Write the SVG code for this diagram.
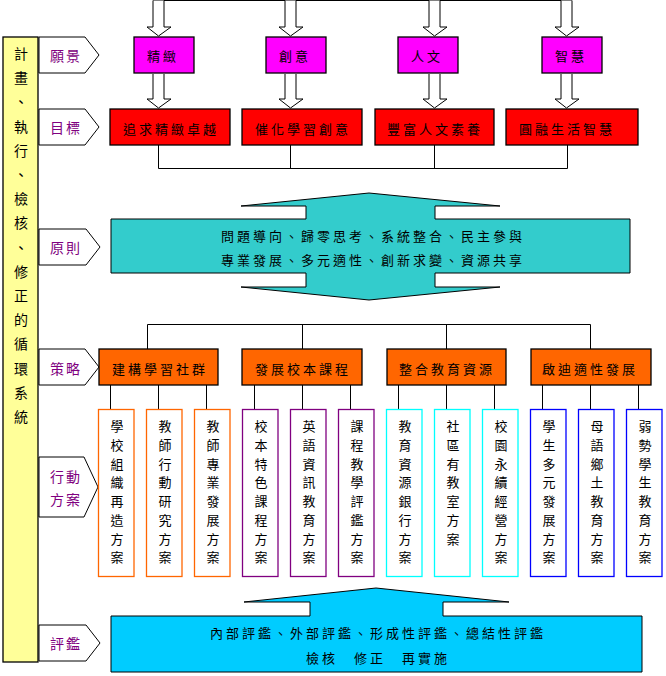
<svg xmlns="http://www.w3.org/2000/svg" width="666" height="676" viewBox="0 0 666 676">
<defs>
<style>
text{font-family:"Noto Sans CJK TC","Noto Sans CJK SC",sans-serif;font-size:13px;letter-spacing:3px;text-anchor:middle;dominant-baseline:central;fill:#000}
.lbl{fill:#800080;font-size:14px;letter-spacing:2px}
.side{font-size:14px;letter-spacing:0}
.vt{letter-spacing:0}
.ln{stroke:#000;stroke-width:1;fill:none}
.harrow{fill:#fff;stroke:#000;stroke-width:1}
.mag{fill:#FF00FF;stroke:#000;stroke-width:1.3}
.red{fill:#FF0000;stroke:#000;stroke-width:1.3}
.org{fill:#FF6600;stroke:#000;stroke-width:1.3}
.tag{fill:#fff;stroke:#000;stroke-width:1}
.act{fill:#fff;stroke-width:1.3}
.o{stroke:#FF6600}.p{stroke:#800080}.c{stroke:#00FFFF}.b{stroke:#0000FF}
</style>
</defs>
<rect width="666" height="676" fill="#fff"/>

<g id="cycle-column">
<rect x="3" y="37" width="35" height="625" fill="#FFFF99" stroke="#000" stroke-width="1.3"/>
<text class="side">
<tspan x="21" y="53">計</tspan><tspan x="21" y="77.2">畫</tspan><tspan x="21" y="101.4">、</tspan><tspan x="21" y="125.6">執</tspan><tspan x="21" y="149.8">行</tspan><tspan x="21" y="174">、</tspan><tspan x="21" y="198.2">檢</tspan><tspan x="21" y="222.4">核</tspan><tspan x="21" y="246.6">、</tspan><tspan x="21" y="270.8">修</tspan><tspan x="21" y="295">正</tspan><tspan x="21" y="319.2">的</tspan><tspan x="21" y="343.4">循</tspan><tspan x="21" y="367.6">環</tspan><tspan x="21" y="391.8">系</tspan><tspan x="21" y="416">統</tspan>
</text>
</g>

<g id="tag-vision"><path class="tag" d="M39,37 H85 L99,55 L85,73 H39 Z"/><text class="lbl" x="66" y="55">願景</text></g>
<g id="tag-goal"><path class="tag" d="M39,109 H85 L99,127 L85,145 H39 Z"/><text class="lbl" x="66" y="127">目標</text></g>
<g id="tag-principle"><path class="tag" d="M39,229 H86 L100,247 L86,265 H39 Z"/><text class="lbl" x="66" y="247">原則</text></g>
<g id="tag-strategy"><path class="tag" d="M39,349 H85 L99,367 L85,385 H39 Z"/><text class="lbl" x="66" y="368">策略</text></g>
<g id="tag-action"><path class="tag" d="M39,457 H84 L98,487 L84,517 H39 Z"/><text class="lbl" x="66" y="476">行動</text><text class="lbl" x="66" y="499">方案</text></g>
<g id="tag-eval"><path class="tag" d="M39,625 H86 L100,643 L86,661 H39 Z"/><text class="lbl" x="66" y="643">評鑑</text></g>

<g id="connectors">
<path class="ln" d="M153,0.5 H572"/>
<path class="harrow" d="M153,0.5 V27 H147 L158.5,36 L171,27 H164 V0.5"/>
<path class="harrow" d="M285,0.5 V27 H279 L290.5,36 L303,27 H296 V0.5"/>
<path class="harrow" d="M429,0.5 V27 H423 L434.5,36 L447,27 H440 V0.5"/>
<path class="harrow" d="M561,0.5 V27 H555 L566.5,36 L579,27 H572 V0.5"/>
<path class="harrow" d="M153,74 V99 H147 L158.5,108 L171,99 H164 V74"/>
<path class="harrow" d="M285,74 V99 H279 L290.5,108 L303,99 H296 V74"/>
<path class="harrow" d="M429,74 V99 H423 L434.5,108 L447,99 H440 V74"/>
<path class="harrow" d="M561,74 V99 H555 L566.5,108 L579,99 H572 V74"/>
<path class="ln" d="M158.5,145 V168.5 H567.5 V145 M290.5,145 V168.5 M434.5,145 V168.5"/>
<path class="ln" d="M147.5,349 V324.5 H590.5 V349 M302.5,324.5 V349 M446.5,324.5 V349"/>
<path class="ln" d="M110.5,385 V409 M158.5,385 V409 M206.5,385 V409 M254.5,385 V409 M302.5,385 V409 M350.5,385 V409 M398.5,385 V409 M446.5,385 V409 M494.5,385 V409 M542.5,385 V409 M590.5,385 V409 M638.5,385 V409"/>
</g>

<g id="vision-1"><rect class="mag" x="134" y="37" width="60" height="36"/><text x="163" y="55">精緻</text></g>
<g id="vision-2"><rect class="mag" x="266" y="37" width="60" height="36"/><text x="295" y="55">創意</text></g>
<g id="vision-3"><rect class="mag" x="398" y="37" width="60" height="36"/><text x="427" y="55">人文</text></g>
<g id="vision-4"><rect class="mag" x="542" y="37" width="60" height="36"/><text x="571" y="55">智慧</text></g>

<g id="goal-1"><rect class="red" x="110" y="109" width="120" height="36"/><text x="171" y="128">追求精緻卓越</text></g>
<g id="goal-2"><rect class="red" x="242" y="109" width="120" height="36"/><text x="303" y="128">催化學習創意</text></g>
<g id="goal-3"><rect class="red" x="375" y="109" width="119" height="36"/><text x="435" y="128">豐富人文素養</text></g>
<g id="goal-4"><rect class="red" x="506" y="109" width="132" height="36"/><text x="567" y="128">圓融生活智慧</text></g>

<g id="principle">
<path d="M369,193 L500,206 H435 V219 H630 V273 H435 V287 H500 L369,300 L241,287 H306 V273 H111 V219 H306 V206 H241 Z" fill="#33CCCC" stroke="#000" stroke-width="1"/>
<text x="373" y="235">問題導向、歸零思考、系統整合、民主參與</text>
<text x="373" y="259">專業發展、多元適性、創新求變、資源共享</text>
</g>

<g id="strategy-1"><rect class="org" x="99" y="349" width="119" height="36"/><text x="160" y="368">建構學習社群</text></g>
<g id="strategy-2"><rect class="org" x="242" y="349" width="120" height="36"/><text x="303" y="368">發展校本課程</text></g>
<g id="strategy-3"><rect class="org" x="387" y="349" width="119" height="36"/><text x="447" y="368">整合教育資源</text></g>
<g id="strategy-4"><rect class="org" x="531" y="349" width="120" height="36"/><text x="590" y="368">啟迪適性發展</text></g>

<g id="action-1"><rect class="act o" x="98.5" y="409.5" width="35.5" height="167"/><text class="vt"><tspan x="117" y="425">學</tspan><tspan x="117" y="443.75">校</tspan><tspan x="117" y="462.5">組</tspan><tspan x="117" y="481.25">織</tspan><tspan x="117" y="500">再</tspan><tspan x="117" y="518.75">造</tspan><tspan x="117" y="537.5">方</tspan><tspan x="117" y="556.25">案</tspan></text></g>
<g id="action-2"><rect class="act o" x="146.5" y="409.5" width="35.5" height="167"/><text class="vt"><tspan x="165" y="425">教</tspan><tspan x="165" y="443.75">師</tspan><tspan x="165" y="462.5">行</tspan><tspan x="165" y="481.25">動</tspan><tspan x="165" y="500">研</tspan><tspan x="165" y="518.75">究</tspan><tspan x="165" y="537.5">方</tspan><tspan x="165" y="556.25">案</tspan></text></g>
<g id="action-3"><rect class="act o" x="194.5" y="409.5" width="35.5" height="167"/><text class="vt"><tspan x="213" y="425">教</tspan><tspan x="213" y="443.75">師</tspan><tspan x="213" y="462.5">專</tspan><tspan x="213" y="481.25">業</tspan><tspan x="213" y="500">發</tspan><tspan x="213" y="518.75">展</tspan><tspan x="213" y="537.5">方</tspan><tspan x="213" y="556.25">案</tspan></text></g>
<g id="action-4"><rect class="act p" x="242.5" y="409.5" width="35.5" height="167"/><text class="vt"><tspan x="261" y="425">校</tspan><tspan x="261" y="443.75">本</tspan><tspan x="261" y="462.5">特</tspan><tspan x="261" y="481.25">色</tspan><tspan x="261" y="500">課</tspan><tspan x="261" y="518.75">程</tspan><tspan x="261" y="537.5">方</tspan><tspan x="261" y="556.25">案</tspan></text></g>
<g id="action-5"><rect class="act p" x="290.5" y="409.5" width="35.5" height="167"/><text class="vt"><tspan x="309" y="425">英</tspan><tspan x="309" y="443.75">語</tspan><tspan x="309" y="462.5">資</tspan><tspan x="309" y="481.25">訊</tspan><tspan x="309" y="500">教</tspan><tspan x="309" y="518.75">育</tspan><tspan x="309" y="537.5">方</tspan><tspan x="309" y="556.25">案</tspan></text></g>
<g id="action-6"><rect class="act p" x="338.5" y="409.5" width="35.5" height="167"/><text class="vt"><tspan x="357" y="425">課</tspan><tspan x="357" y="443.75">程</tspan><tspan x="357" y="462.5">教</tspan><tspan x="357" y="481.25">學</tspan><tspan x="357" y="500">評</tspan><tspan x="357" y="518.75">鑑</tspan><tspan x="357" y="537.5">方</tspan><tspan x="357" y="556.25">案</tspan></text></g>
<g id="action-7"><rect class="act c" x="386.5" y="409.5" width="35.5" height="167"/><text class="vt"><tspan x="405" y="425">教</tspan><tspan x="405" y="443.75">育</tspan><tspan x="405" y="462.5">資</tspan><tspan x="405" y="481.25">源</tspan><tspan x="405" y="500">銀</tspan><tspan x="405" y="518.75">行</tspan><tspan x="405" y="537.5">方</tspan><tspan x="405" y="556.25">案</tspan></text></g>
<g id="action-8"><rect class="act c" x="434.5" y="409.5" width="35.5" height="167"/><text class="vt"><tspan x="453" y="425">社</tspan><tspan x="453" y="443.75">區</tspan><tspan x="453" y="462.5">有</tspan><tspan x="453" y="481.25">教</tspan><tspan x="453" y="500">室</tspan><tspan x="453" y="518.75">方</tspan><tspan x="453" y="537.5">案</tspan></text></g>
<g id="action-9"><rect class="act c" x="482.5" y="409.5" width="35.5" height="167"/><text class="vt"><tspan x="501" y="425">校</tspan><tspan x="501" y="443.75">園</tspan><tspan x="501" y="462.5">永</tspan><tspan x="501" y="481.25">續</tspan><tspan x="501" y="500">經</tspan><tspan x="501" y="518.75">營</tspan><tspan x="501" y="537.5">方</tspan><tspan x="501" y="556.25">案</tspan></text></g>
<g id="action-10"><rect class="act b" x="530.5" y="409.5" width="35.5" height="167"/><text class="vt"><tspan x="549" y="425">學</tspan><tspan x="549" y="443.75">生</tspan><tspan x="549" y="462.5">多</tspan><tspan x="549" y="481.25">元</tspan><tspan x="549" y="500">發</tspan><tspan x="549" y="518.75">展</tspan><tspan x="549" y="537.5">方</tspan><tspan x="549" y="556.25">案</tspan></text></g>
<g id="action-11"><rect class="act b" x="578.5" y="409.5" width="35.5" height="167"/><text class="vt"><tspan x="597" y="425">母</tspan><tspan x="597" y="443.75">語</tspan><tspan x="597" y="462.5">鄉</tspan><tspan x="597" y="481.25">土</tspan><tspan x="597" y="500">教</tspan><tspan x="597" y="518.75">育</tspan><tspan x="597" y="537.5">方</tspan><tspan x="597" y="556.25">案</tspan></text></g>
<g id="action-12"><rect class="act b" x="626.5" y="409.5" width="35.5" height="167"/><text class="vt"><tspan x="645" y="425">弱</tspan><tspan x="645" y="443.75">勢</tspan><tspan x="645" y="462.5">學</tspan><tspan x="645" y="481.25">生</tspan><tspan x="645" y="500">教</tspan><tspan x="645" y="518.75">育</tspan><tspan x="645" y="537.5">方</tspan><tspan x="645" y="556.25">案</tspan></text></g>

<g id="evaluation">
<path d="M376,588 L509,602 H443 V616 H642 V672 H111 V616 H310 V602 H244 Z" fill="#00CCFF" stroke="#000" stroke-width="1"/>
<text x="378" y="632">內部評鑑、外部評鑑、形成性評鑑、總結性評鑑</text>
<text x="378" y="657">檢核　修正　再實施</text>
</g>
</svg>
